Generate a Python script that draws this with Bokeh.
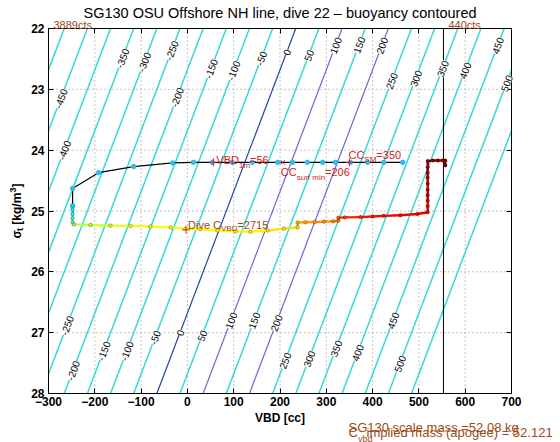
import math
from bokeh.plotting import figure
from bokeh.models import (Range1d, LinearAxis, Label, ColumnDataSource,
                          FixedTicker, CustomJSTickFormatter)
from bokeh.embed import file_html
from bokeh.resources import INLINE

# ---------------- data ----------------
TITLE = "SG130 OSU Offshore NH line, dive 22 \u2013 buoyancy contoured"
x_ticks = [-300, -200, -100, 0, 100, 200, 300, 400, 500, 600, 700]
y_ticks = [22, 23, 24, 25, 26, 27, 28]

# buoyancy contour levels [g]; zero-buoyancy line read at sigma 22 and 28
levels = [-500, -450, -400, -350, -300, -250, -200, -150, -100, -50, 0,
          50, 100, 150, 200, 250, 300, 350, 400, 450, 500, 550]
sigma_ends = [22.0, 28.0]
zero_vbd_ends = [234.0, -66.0]

label_levels_top = [-450, -400, -350, -300, -250, -200, -150, -100, -50, 0,
                    50, 100, 150, 200, 250, 300, 350, 400, 450, 500]
label_sigma_top = [23.15, 24.0, 22.49, 22.55, 22.36, 23.13, 22.66, 22.69, 22.49, 22.39,
                   22.44, 22.28, 22.27, 22.28, 22.86, 22.82, 22.66, 22.69, 22.28, 22.9]
label_levels_bot = [-250, -200, -150, -100, -50, 0, 50, 100, 150, 200,
                    250, 300, 350, 400, 450, 500]
label_sigma_bot = [26.88, 27.62, 27.3, 27.3, 27.08, 27.0, 27.05, 26.8, 26.8, 26.84,
                   27.46, 27.43, 27.26, 27.33, 26.8, 27.51]

# surface / climb line (black with blue dots)
surf_vbd = [-248, -248, -192, -116, -32, 13, 54, 97, 140, 195, 227, 259, 292, 320,
            352, 389, 424, 465]
surf_sigma = [24.92, 24.63, 24.37, 24.27, 24.21, 24.20, 24.20, 24.20, 24.20, 24.20,
              24.20, 24.20, 24.20, 24.20, 24.20, 24.20, 24.20, 24.20]

# dive track (colour coded)
track_vbd = [-248, -248, -248, -248, -248,
             -245, -209, -166, -123, -80, -36, -4, 28, 65, 104, 136, 173, 208, 238,
             238, 255, 275, 295, 315, 326,
             326, 340, 374, 400, 424, 460, 497, 519,
             519, 519, 519, 519, 519, 519, 519, 519, 519,
             530, 541, 552, 557, 557]
track_sigma = [24.91, 24.98, 25.05, 25.12, 25.19,
               25.22, 25.23, 25.24, 25.245, 25.255, 25.27, 25.29, 25.30, 25.32, 25.335,
               25.34, 25.32, 25.29, 25.27,
               25.19, 25.185, 25.18, 25.175, 25.17, 25.16,
               25.11, 25.105, 25.10, 25.09, 25.08, 25.07, 25.05, 25.02,
               24.92, 24.83, 24.74, 24.65, 24.55, 24.45, 24.37, 24.28, 24.18,
               24.17, 24.17, 24.17, 24.17, 24.25]
track_value = [0.36, 0.37, 0.39, 0.41, 0.45,
               0.52, 0.56, 0.58, 0.60, 0.61, 0.62, 0.62, 0.625, 0.63, 0.63, 0.635,
               0.64, 0.65, 0.66,
               0.70, 0.71, 0.72, 0.73, 0.74, 0.76,
               0.80, 0.82, 0.84, 0.86, 0.87, 0.88, 0.89, 0.90,
               0.91, 0.92, 0.93, 0.94, 0.95, 0.96, 0.97, 0.98, 0.99,
               0.99, 1.0, 1.0, 1.0, 1.0]

surface_sigma = 24.2
vbd_1m = 56
cc_surf_min = 206
cc_sm = 350
dive_cvbd_vbd = -3
dive_cvbd_sigma = 25.31
apogee_vbd = 553

# ---------------- styling / layout ----------------
FONT = "Liberation Sans"
RED = "#d42020"
BROWN = "#9c4a16"
CYAN = "#30dada"
special_colors = {0: "#2244a4", 100: "#6a6ad0", 200: "#6a6ad0"}

W, H = 560, 442
BOX_L, BOX_R, BOX_T, BOX_B = 48, 511, 28, 393   # axes box in page pixels
X0, X1 = -300, 700
Y0, Y1 = 22, 28
px_per_vbd = (BOX_R - BOX_L) / (X1 - X0)
px_per_sig = (BOX_B - BOX_T) / (Y1 - Y0)
xr = Range1d(X0 - BOX_L / px_per_vbd, X1 + (W - BOX_R) / px_per_vbd)
yr = Range1d(Y1 + (H - BOX_B) / px_per_sig, Y0 - BOX_T / px_per_sig)


def jet(t):
    def c(v):
        return max(0.0, min(1.0, v))
    r = c(1.5 - abs(4 * t - 3))
    g = c(1.5 - abs(4 * t - 2))
    b = c(1.5 - abs(4 * t - 1))
    return "#%02x%02x%02x" % (int(r * 255), int(g * 255), int(b * 255))


p = figure(width=W, height=H, x_range=xr, y_range=yr,
           output_backend="svg", toolbar_location=None,
           min_border=0, min_border_left=0, min_border_right=0,
           min_border_top=0, min_border_bottom=0)
p.background_fill_color = "white"
p.border_fill_color = "white"
p.outline_line_color = None
p.grid.visible = False

minus_fmt = CustomJSTickFormatter(code="return String(tick).replace('-', '\\u2212');")
blank_fmt = CustomJSTickFormatter(code="return '';")

p.xaxis.ticker = FixedTicker(ticks=x_ticks)
p.yaxis.ticker = FixedTicker(ticks=y_ticks)
p.xaxis.formatter = minus_fmt
p.xaxis.fixed_location = Y1
p.yaxis.fixed_location = X0
p.xaxis.bounds = (X0, X1)
p.yaxis.bounds = (Y0, Y1)

top_ax = LinearAxis(ticker=FixedTicker(ticks=x_ticks), formatter=blank_fmt,
                    fixed_location=Y0, bounds=(X0, X1))
right_ax = LinearAxis(ticker=FixedTicker(ticks=y_ticks), formatter=blank_fmt,
                      fixed_location=X1, bounds=(Y0, Y1))
p.add_layout(top_ax, "above")
p.add_layout(right_ax, "right")

for ax in p.axis:
    ax.major_tick_in = 5
    ax.major_tick_out = 0
    ax.minor_tick_line_color = None
    ax.axis_line_color = "black"
    ax.axis_line_width = 1
    ax.major_tick_line_color = "black"
    ax.major_label_text_font = FONT
    ax.major_label_text_font_style = "bold"
    ax.major_label_text_color = "black"
    ax.major_label_text_font_size = "12px"
for ax in p.xaxis:
    ax.major_label_standoff = 3
for ax in p.yaxis:
    ax.major_label_standoff = 4

# ---------------- grid (dotted, inside the box) ----------------
p.segment(x0=x_ticks[1:-1], y0=[Y0] * (len(x_ticks) - 2), x1=x_ticks[1:-1],
          y1=[Y1] * (len(x_ticks) - 2), line_color="#8a8a8a", line_dash="1 3",
          line_width=1)
p.segment(x0=[X0] * (len(y_ticks) - 2), y0=y_ticks[1:-1], x1=[X1] * (len(y_ticks) - 2),
          y1=y_ticks[1:-1], line_color="#8a8a8a", line_dash="1 3", line_width=1)

# ---------------- contours (clipped to the box) ----------------
slope = (zero_vbd_ends[1] - zero_vbd_ends[0]) / (sigma_ends[1] - sigma_ends[0])


def line_vbd(L, s):
    return zero_vbd_ends[0] + L + slope * (s - sigma_ends[0])


def line_sigma(L, v):
    return sigma_ends[0] + (v - zero_vbd_ends[0] - L) / slope


cxs, cys, ccol, cw = [], [], [], []
for L in levels:
    s_a, s_b = sigma_ends
    v_a, v_b = line_vbd(L, s_a), line_vbd(L, s_b)
    if v_a > X1:
        s_a, v_a = line_sigma(L, X1), X1
    if v_b < X0:
        s_b, v_b = line_sigma(L, X0), X0
    if s_a >= s_b:
        continue
    cxs.append([v_a, v_b])
    cys.append([s_a, s_b])
    ccol.append(special_colors.get(L, CYAN))
    cw.append(1.2 if L in special_colors else 1.5)
p.multi_line(xs="xs", ys="ys", line_color="c", line_width="w",
             source=ColumnDataSource(dict(xs=cxs, ys=cys, c=ccol, w=cw)))

angle = math.atan2(px_per_sig, -slope * px_per_vbd)
for lv, s in list(zip(label_levels_top, label_sigma_top)) + list(zip(label_levels_bot, label_sigma_bot)):
    p.add_layout(Label(x=line_vbd(lv, s), y=s, text=str(lv), angle=angle,
                       text_align="center", text_baseline="middle",
                       text_font=FONT, text_font_size="10px", text_color="black",
                       background_fill_color="white", background_fill_alpha=1.0))

# apogee counts line
p.segment(x0=[apogee_vbd], y0=[Y0], x1=[apogee_vbd], y1=[Y1], line_color="black",
          line_width=1)

# surface line
p.line(surf_vbd, surf_sigma, line_color="black", line_width=1.2)
p.scatter(surf_vbd, surf_sigma, size=4.5, marker="circle", fill_color="#36b8ec",
          line_color="#36b8ec")

# dive track
tcol = [jet(v) for v in track_value]
seg = ColumnDataSource(dict(x0=track_vbd[:-1], y0=track_sigma[:-1], x1=track_vbd[1:],
                            y1=track_sigma[1:], c=tcol[1:]))
p.segment("x0", "y0", "x1", "y1", source=seg, line_color="c", line_width=2.4)
p.scatter(track_vbd, track_sigma, size=3.5, marker="circle", fill_color=tcol,
          line_color="#330000", line_alpha=0.55, line_width=0.6)

# markers
p.scatter([vbd_1m, cc_sm], [surface_sigma, surface_sigma], marker="cross", size=8,
          line_color=RED, line_width=1)
p.scatter([cc_surf_min], [surface_sigma], marker="x", size=6, line_color=RED, line_width=1)
p.scatter([dive_cvbd_vbd], [dive_cvbd_sigma], marker="cross", size=8,
          line_color="#d03a10", line_width=1)


def txt(x, y, s, size, color, dx=0.0, dy=0.0, bold=False, angle=0.0,
        align="left", baseline="alphabetic"):
    p.add_layout(Label(x=x, y=y, text=s, x_offset=dx, y_offset=dy, angle=angle,
                       text_font=FONT, text_font_size="%gpx" % size, text_color=color,
                       text_font_style="bold" if bold else "normal",
                       text_align=align, text_baseline=baseline))


# VBD_1m=56
txt(vbd_1m, surface_sigma, "VBD", 11, RED, dx=3, dy=2.6)
txt(vbd_1m, surface_sigma, "1m", 8, RED, dx=25.6, dy=-3.4)
txt(vbd_1m, surface_sigma, "=%d" % vbd_1m, 11, RED, dx=36.7, dy=2.6)
# CC_surf min=206
txt(cc_surf_min, surface_sigma, "CC", 11, RED, dx=-2, dy=-9.4)
txt(cc_surf_min, surface_sigma, "surf min", 8, RED, dx=13.9, dy=-15.0)
txt(cc_surf_min, surface_sigma, "=%d" % cc_surf_min, 11, RED, dx=42.3, dy=-9.4)
# CC_SM=350
txt(cc_sm, surface_sigma, "CC", 11, RED, dx=-1, dy=7.6)
txt(cc_sm, surface_sigma, "SM", 8, RED, dx=14.9, dy=2.6)
txt(cc_sm, surface_sigma, "=%d" % cc_sm, 11, RED, dx=26.9, dy=7.6)
# Dive C_VBD=2715
txt(dive_cvbd_vbd, dive_cvbd_sigma, "Dive C", 11, BROWN, dx=2, dy=5)
txt(dive_cvbd_vbd, dive_cvbd_sigma, "VBD", 8, BROWN, dx=35, dy=1)
txt(dive_cvbd_vbd, dive_cvbd_sigma, "=2715", 11, BROWN, dx=51.4, dy=5)

# counts labels above the box
txt(X0, Y0, "3889cts", 11, BROWN, dx=5, dy=4)
txt(apogee_vbd, Y0, "440cts", 11, BROWN, dx=5, dy=4)

# title
txt(200, Y0, TITLE, 14.5, "black", dy=16, align="center", baseline="middle")

# x axis label
txt(200, Y1, "VBD [cc]", 12, "black", dy=-24, bold=True, align="center", baseline="middle")

# y axis label (rotated pieces)
yc = (Y0 + Y1) / 2
xl = -32
start = -27.4
txt(X0, yc, "\u03c3", 12, "black", dx=xl, dy=start, bold=True, angle=math.pi / 2,
    baseline="middle")
txt(X0, yc, "t", 9, "black", dx=xl + 3, dy=start + 7.4, bold=True, angle=math.pi / 2,
    baseline="middle")
txt(X0, yc, "[kg/m", 12, "black", dx=xl, dy=start + 13.7, bold=True, angle=math.pi / 2,
    baseline="middle")
txt(X0, yc, "3", 9, "black", dx=xl - 4, dy=start + 45.9, bold=True, angle=math.pi / 2,
    baseline="middle")
txt(X0, yc, "]", 12, "black", dx=xl, dy=start + 51.0, bold=True, angle=math.pi / 2,
    baseline="middle")

# bottom notes
txt(348, Y1, "SG130 scale mass =52.08 kg", 13, BROWN, dy=-34)
txt(348, Y1, "C", 13, BROWN, dy=-39)
txt(348, Y1, "vbd", 9, BROWN, dx=9.4, dy=-45)
txt(348, Y1, "implied mass (apogee) = 52.121", 13, BROWN, dx=18, dy=-39)

open("out.html", "w").write(file_html(p, INLINE))
